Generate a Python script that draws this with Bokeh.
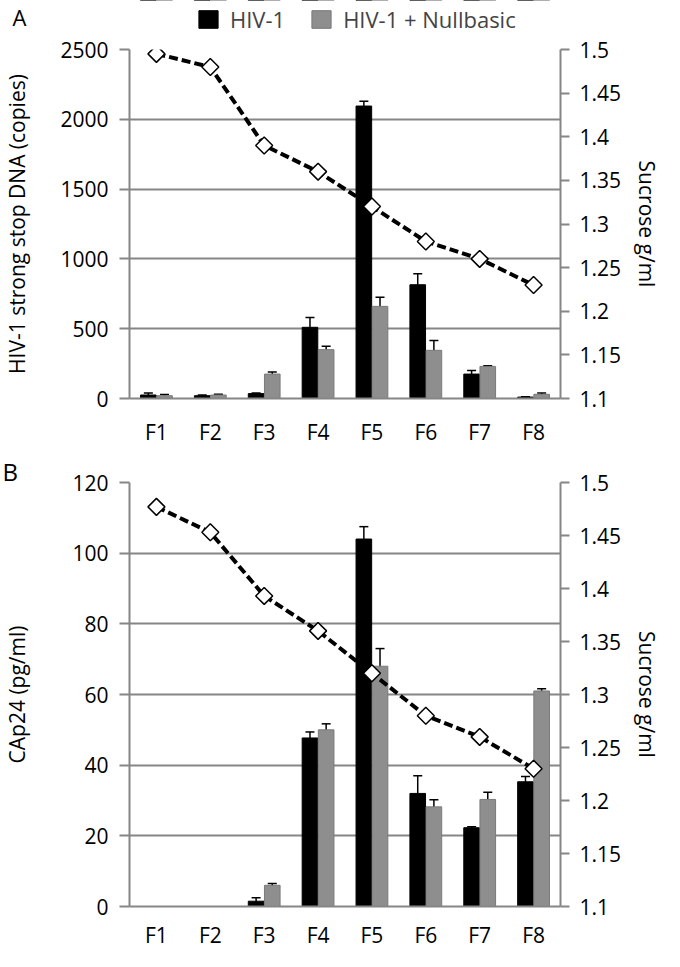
from bokeh.plotting import figure
from bokeh.models import (ColumnDataSource, Range1d, LinearAxis, Whisker,
                          TeeHead, Legend, LegendItem, FixedTicker,
                          NumeralTickFormatter, Title)
from bokeh.layouts import column
from bokeh.embed import file_html
from bokeh.resources import INLINE

# ---------------- data ----------------
fractions = ["F1", "F2", "F3", "F4", "F5", "F6", "F7", "F8"]
a_sucrose = [1.495, 1.48, 1.39, 1.36, 1.32, 1.28, 1.26, 1.23]
b_sucrose = [1.477, 1.453, 1.393, 1.36, 1.32, 1.28, 1.26, 1.23]

a_hiv = [25, 20, 35, 510, 2095, 815, 175, 10]
a_hiv_err = [15, 5, 5, 70, 35, 78, 25, 3]
a_nb = [20, 25, 175, 350, 660, 345, 230, 30]
a_nb_err = [8, 5, 15, 25, 65, 70, 5, 10]

b_hiv = [0, 0, 1.5, 47.7, 104, 32, 22.3, 35.3]
b_hiv_err = [0, 0, 1.0, 1.7, 3.5, 5, 0.3, 1.5]
b_nb = [0, 0, 6, 50, 68, 28.2, 30.3, 61]
b_nb_err = [0, 0, 0.5, 1.7, 5, 2, 2, 0.6]

a_ticks = [0, 500, 1000, 1500, 2000, 2500]
b_ticks = [0, 20, 40, 60, 80, 100, 120]
suc_ticks = [1.1, 1.15, 1.2, 1.25, 1.3, 1.35, 1.4, 1.45, 1.5]

series_names = ["HIV-1", "HIV-1 + Nullbasic"]
a_ylabel = "HIV-1 strong stop DNA (copies)"
b_ylabel = "CAp24 (pg/ml)"
suc_label = "Sucrose g/ml"

# ---------------- style ----------------
FONT = "Open Sans"
FS = "21px"
GRID = "#868686"
BLACK = "#000000"
GREY = "#8e8e8e"
GREY_LINE = "#7a7a7a"
OFF = 0.15
BW = 0.29
W = 664
N = len(fractions)
cat_x = [i + 0.5 for i in range(N)]          # category centres


def make_panel(hiv, hiv_err, nb, nb_err, suc, ticks, ymax, ylabel, height,
               top, bottom, title_standoff, xlab_standoff):
    p = figure(x_range=Range1d(0, N), y_range=Range1d(0, ymax),
               width=W, height=height, output_backend="svg",
               toolbar_location=None, min_border_left=122,
               min_border_right=99, min_border_top=top,
               min_border_bottom=bottom)
    p.outline_line_color = None
    p.background_fill_color = "white"
    p.border_fill_color = "white"
    p.extra_y_ranges = {"suc": Range1d(1.1, 1.5)}

    src = ColumnDataSource(dict(
        x=cat_x, xh=[c - OFF for c in cat_x], xn=[c + OFF for c in cat_x],
        hiv=hiv, nb=nb, suc=suc))
    p.vbar(x="xh", top="hiv", width=BW, source=src,
           fill_color=BLACK, line_color=BLACK, line_width=1)
    p.vbar(x="xn", top="nb", width=BW, source=src,
           fill_color=GREY, line_color=GREY_LINE, line_width=1)

    for vals, errs, off in ((hiv, hiv_err, -OFF), (nb, nb_err, OFF)):
        xs = [c + off for c, e in zip(cat_x, errs) if e > 0]
        up = [v + e for v, e in zip(vals, errs) if e > 0]
        lo = [max(v - e, 0) for v, e in zip(vals, errs) if e > 0]
        wsrc = ColumnDataSource(dict(x=xs, upper=up, lower=lo))
        w = Whisker(base="x", upper="upper", lower="lower", source=wsrc,
                    line_color=BLACK, line_width=1.5,
                    upper_head=TeeHead(size=9, line_color=BLACK, line_width=1.5),
                    lower_head=TeeHead(size=9, line_color=BLACK, line_width=1.5))
        p.add_layout(w)

    p.line(x="x", y="suc", source=src, y_range_name="suc", line_color=BLACK,
           line_width=4, line_dash="9 4")
    p.scatter(x="x", y="suc", source=src, y_range_name="suc", marker="square",
              angle=0.785398, size=12, fill_color="white", line_color=BLACK,
              line_width=1.5)

    # grid
    p.xgrid.grid_line_color = None
    p.ygrid.ticker = FixedTicker(ticks=ticks)
    p.ygrid.grid_line_color = GRID
    p.ygrid.grid_line_width = 2

    # left axis
    ya = p.yaxis[0]
    ya.ticker = FixedTicker(ticks=ticks)
    ya.axis_line_color = GRID
    ya.axis_line_width = 2
    ya.major_tick_line_color = GRID
    ya.major_tick_line_width = 2
    ya.major_tick_out = 10
    ya.major_tick_in = 0
    ya.minor_tick_line_color = None
    ya.major_label_standoff = 11
    ya.major_label_text_font = FONT
    ya.major_label_text_font_size = FS
    ya.major_label_text_color = "black"
    ya.axis_label = ylabel
    ya.axis_label_text_font = FONT
    ya.axis_label_text_font_size = FS
    ya.axis_label_text_font_style = "normal"
    ya.axis_label_text_color = "black"
    ya.axis_label_standoff = title_standoff

    # right axis
    ra = LinearAxis(y_range_name="suc", ticker=FixedTicker(ticks=suc_ticks),
                    formatter=NumeralTickFormatter(format="0.0[0]"))
    ra.axis_line_color = GRID
    ra.axis_line_width = 2
    ra.major_tick_line_color = GRID
    ra.major_tick_line_width = 2
    ra.major_tick_out = 9
    ra.major_tick_in = 0
    ra.minor_tick_line_color = None
    ra.major_label_standoff = 10
    ra.major_label_text_font = FONT
    ra.major_label_text_font_size = FS
    ra.major_label_text_color = "black"
    ra.axis_label = suc_label
    ra.axis_label_text_font = FONT
    ra.axis_label_text_font_size = FS
    ra.axis_label_text_font_style = "normal"
    ra.axis_label_text_color = "black"
    ra.axis_label_standoff = 9
    p.add_layout(ra, "right")

    # x axis (categories)
    xa = p.xaxis[0]
    xa.ticker = FixedTicker(ticks=cat_x)
    xa.major_label_overrides = {c: f for c, f in zip(cat_x, fractions)}
    xa.axis_line_color = GRID
    xa.axis_line_width = 2
    xa.major_tick_line_color = None
    xa.major_tick_out = 0
    xa.major_tick_in = 0
    xa.minor_tick_line_color = None
    xa.major_label_standoff = xlab_standoff
    xa.major_label_text_font = FONT
    xa.major_label_text_font_size = FS
    xa.major_label_text_color = "black"
    return p


# ---- header strip: panel letter A (as a tick label) and the legend ----
HH = 34
A_Y = 18
head = figure(width=W, height=HH, x_range=Range1d(0, N), y_range=Range1d(0, HH),
              x_axis_type=None, toolbar_location=None, output_backend="svg",
              min_border_left=122, min_border_right=99, min_border_top=0,
              min_border_bottom=0)
head.outline_line_color = None
head.background_fill_color = "white"
head.border_fill_color = "white"
head.ygrid.grid_line_color = None
hy = head.yaxis[0]
hy.ticker = FixedTicker(ticks=[A_Y])
hy.major_label_overrides = {A_Y: "A"}
hy.axis_line_color = None
hy.major_tick_line_color = None
hy.minor_tick_line_color = None
hy.major_tick_out = 0
hy.major_tick_in = 0
hy.major_label_standoff = 103
hy.major_label_text_font = FONT
hy.major_label_text_font_size = "22px"
hy.major_label_text_color = "black"
# legend proxies: same series, drawn in a range that puts them far out of view
head.extra_y_ranges = {"hide": Range1d(-1e6, -1e6 + 1)}
hsrc = ColumnDataSource(dict(xh=[c - OFF for c in cat_x],
                             xn=[c + OFF for c in cat_x], hiv=a_hiv, nb=a_nb))
lg_hiv = head.vbar(x="xh", top="hiv", width=BW, source=hsrc, y_range_name="hide",
                   fill_color=BLACK, line_color=BLACK)
lg_nb = head.vbar(x="xn", top="nb", width=BW, source=hsrc, y_range_name="hide",
                  fill_color=GREY, line_color=GREY_LINE)
legend = Legend(items=[LegendItem(label=series_names[0], renderers=[lg_hiv]),
                       LegendItem(label=series_names[1], renderers=[lg_nb])],
                orientation="horizontal", location=(67, 0),
                border_line_color=None, background_fill_alpha=0,
                label_text_font=FONT, label_text_font_size="22px",
                glyph_width=24, glyph_height=22, spacing=24, padding=0,
                margin=0, label_standoff=10)
head.add_layout(legend)

# ---- panel A: page 42..465, frame 57..406 ----
pA = make_panel(a_hiv, a_hiv_err, a_nb, a_nb_err, a_sucrose, a_ticks, 2500,
                a_ylabel, 423, 15, 59, 26, 19)

# ---- panel B: page 465..959, frame ~490..915 ----
pB = make_panel(b_hiv, b_hiv_err, b_nb, b_nb_err, b_sucrose, b_ticks, 120,
                b_ylabel, 494, 0, 44, 38, 14)
pB.add_layout(Title(text="B", align="left", offset=-127, standoff=-10,
                    text_font=FONT, text_font_size="24px",
                    text_font_style="normal", text_color="black"), "above")

layout = column(head, pA, pB, spacing=0)
open("out.html", "w").write(file_html(layout, INLINE))
